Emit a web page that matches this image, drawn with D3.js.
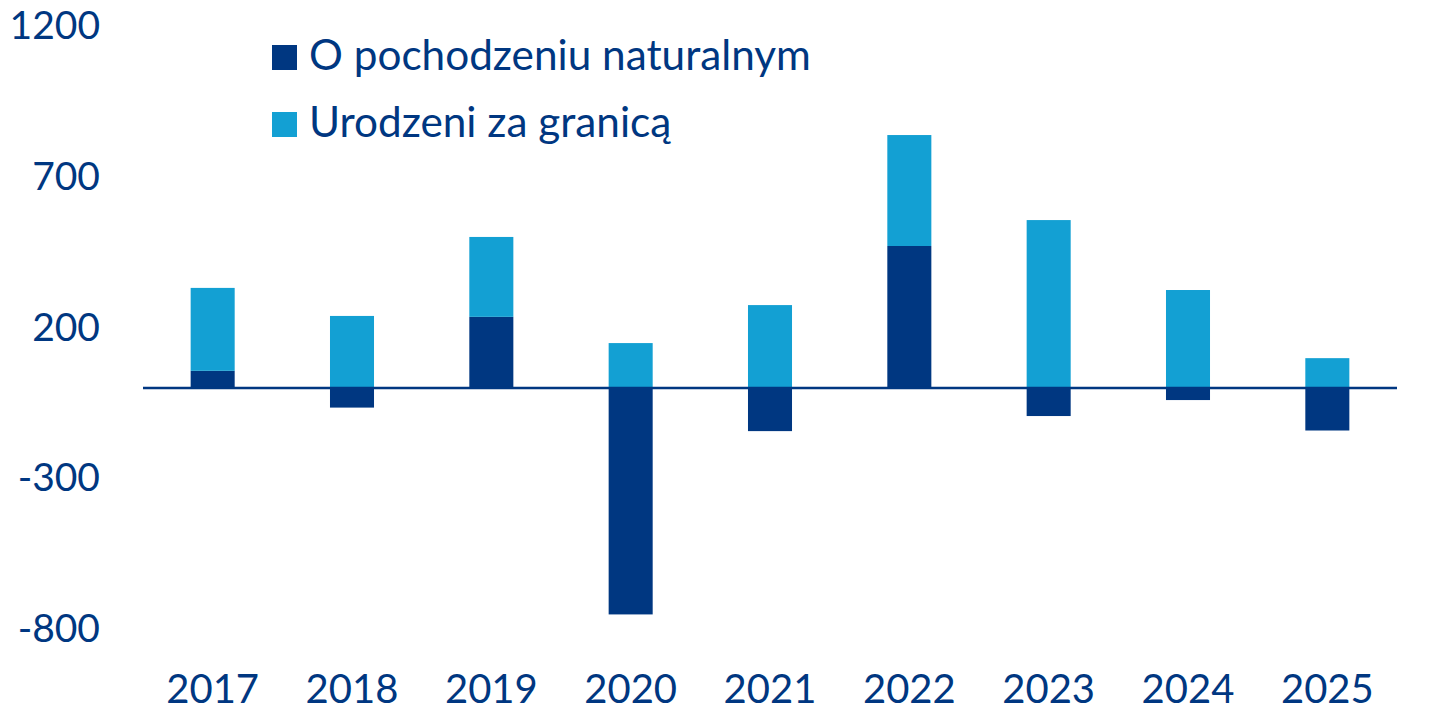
<!DOCTYPE html>
<html lang="pl">
  <head>
    <meta charset="UTF-8" />
    <title>Naturalni vs urodzeni za granicą</title>
    <script src="https://cdn.jsdelivr.net/npm/d3@7"></script>
    <style>
      body { margin: 0; background: #fff; }
      text { font-family: Lato, "Open Sans", sans-serif; fill: #003781; }
    </style>
  </head>
  <body>
    <svg id="chart" width="1429" height="721"></svg>
    <script>
      // data
      var years = ["2017","2018","2019","2020","2021","2022","2023","2024","2025"];
      var natural = [57, -65, 236, -751, -143, 471, -93, -40, -141];
      var foreign = [275, 239, 265, 149, 275, 368, 557, 325, 99];
      var yTicks = [-800, -300, 200, 700, 1200];
      var seriesNames = ["O pochodzeniu naturalnym", "Urodzeni za granicą"];
      var colors = ["#003781", "#13a0d3"];

      var svg = d3.select("#chart");

      var rows = years.map(function(y, i) {
        return { year: y, natural: natural[i], foreign: foreign[i] };
      });

      var xScale = d3.scaleBand()
        .domain(years)
        .range([143, 1397])
        .paddingInner(0.684)
        .paddingOuter(0.342);

      var yScale = d3.scaleLinear()
        .domain([-800, 1200])
        .range([629.2, 26.2]);

      var stack = d3.stack()
        .keys(["natural", "foreign"])
        .offset(d3.stackOffsetDiverging);

      var layers = stack(rows);

      svg.selectAll(".layer")
        .data(layers)
        .enter()
        .append("g")
        .attr("class", "layer")
        .attr("fill", function(d, i) { return colors[i]; })
        .selectAll("rect")
        .data(function(d) { return d; })
        .enter()
        .append("rect")
        .attr("x", function(d) { return xScale(d.data.year); })
        .attr("width", xScale.bandwidth())
        .attr("y", function(d) { return yScale(Math.max(d[0], d[1])); })
        .attr("height", function(d) { return Math.abs(yScale(d[0]) - yScale(d[1])); });

      // zero line
      svg.append("line")
        .attr("x1", 143)
        .attr("x2", 1397)
        .attr("y1", yScale(0))
        .attr("y2", yScale(0))
        .attr("stroke", "#003781")
        .attr("stroke-width", 2.5);

      // y axis labels (no line, no ticks)
      var yAxis = d3.axisLeft(yScale)
        .tickValues(yTicks)
        .tickFormat(function(d) { return String(d); })
        .tickSize(0)
        .tickPadding(0);

      svg.append("g")
        .attr("class", "y-axis")
        .attr("transform", "translate(100,0)")
        .call(yAxis)
        .call(function(g) { g.select(".domain").remove(); })
        .selectAll("text")
        .attr("font-size", 39)
        .attr("font-family", "Lato, sans-serif")
        .attr("fill", "#003781");

      // x axis labels
      var xAxis = d3.axisBottom(xScale)
        .tickSize(0)
        .tickPadding(0);

      svg.append("g")
        .attr("class", "x-axis")
        .attr("transform", "translate(0,674.5)")
        .call(xAxis)
        .call(function(g) { g.select(".domain").remove(); })
        .selectAll("text")
        .attr("font-size", 40)
        .attr("font-family", "Lato, sans-serif")
        .attr("fill", "#003781");

      // legend
      var legend = svg.selectAll(".legend")
        .data(seriesNames)
        .enter()
        .append("g")
        .attr("class", "legend")
        .attr("transform", function(d, i) { return "translate(272," + (45 + i * 67) + ")"; });

      legend.append("rect")
        .attr("width", 25)
        .attr("height", 25)
        .attr("fill", function(d, i) { return colors[i]; });

      legend.append("text")
        .attr("x", 37)
        .attr("y", 25)
        .attr("font-size", 42.3)
        .text(function(d) { return d; });
    </script>
  </body>
</html>
